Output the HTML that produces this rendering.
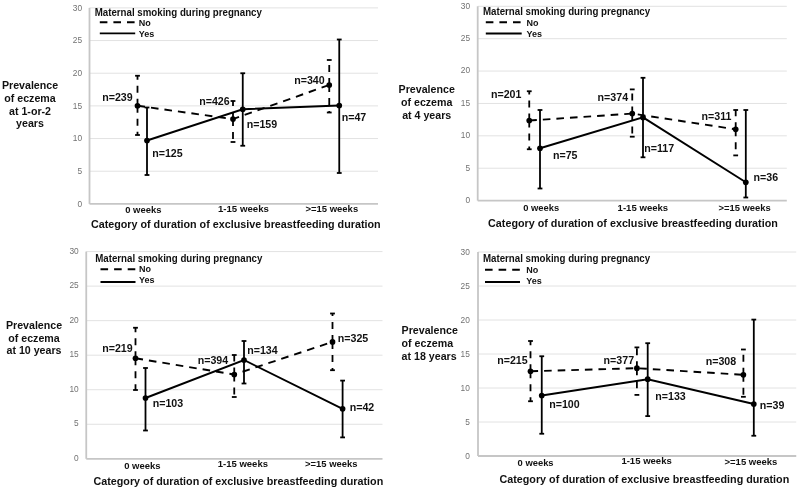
<!DOCTYPE html>
<html><head><meta charset="utf-8"><style>html,body{margin:0;padding:0;background:#fff;}svg{display:block;will-change:transform;}</style></head><body>
<svg width="800" height="489" viewBox="0 0 800 489" font-family='"Liberation Sans", sans-serif'>
<rect width="800" height="489" fill="#fff"/>
<line x1="89.5" y1="171.23" x2="378" y2="171.23" stroke="#e2e2e2" stroke-width="1"/>
<line x1="89.5" y1="138.57" x2="378" y2="138.57" stroke="#e2e2e2" stroke-width="1"/>
<line x1="89.5" y1="105.90" x2="378" y2="105.90" stroke="#e2e2e2" stroke-width="1"/>
<line x1="89.5" y1="73.23" x2="378" y2="73.23" stroke="#e2e2e2" stroke-width="1"/>
<line x1="89.5" y1="40.57" x2="378" y2="40.57" stroke="#e2e2e2" stroke-width="1"/>
<line x1="89.5" y1="7.90" x2="378" y2="7.90" stroke="#e2e2e2" stroke-width="1"/>
<line x1="89.5" y1="7.90" x2="89.5" y2="203.90" stroke="#c6c6c6" stroke-width="1.8"/>
<line x1="89.5" y1="203.90" x2="378" y2="203.90" stroke="#c6c6c6" stroke-width="1.8"/>
<text x="77.45" y="206.80" font-size="8.8" fill="#727272" textLength="4.65" lengthAdjust="spacingAndGlyphs">0</text>
<text x="77.45" y="174.13" font-size="8.8" fill="#727272" textLength="4.65" lengthAdjust="spacingAndGlyphs">5</text>
<text x="72.80" y="141.47" font-size="8.8" fill="#727272" textLength="9.30" lengthAdjust="spacingAndGlyphs">10</text>
<text x="72.80" y="108.80" font-size="8.8" fill="#727272" textLength="9.30" lengthAdjust="spacingAndGlyphs">15</text>
<text x="72.80" y="76.13" font-size="8.8" fill="#727272" textLength="9.30" lengthAdjust="spacingAndGlyphs">20</text>
<text x="72.80" y="43.47" font-size="8.8" fill="#727272" textLength="9.30" lengthAdjust="spacingAndGlyphs">25</text>
<text x="72.80" y="10.80" font-size="8.8" fill="#727272" textLength="9.30" lengthAdjust="spacingAndGlyphs">30</text>
<polyline points="137.5,105.75 233,119.1 329.25,85" fill="none" stroke="#000" stroke-width="1.9" stroke-dasharray="7.6,6.0"/>
<line x1="137.5" y1="105.75" x2="137.5" y2="75.75" stroke="#000" stroke-width="1.8" stroke-dasharray="7,6"/>
<line x1="137.5" y1="105.75" x2="137.5" y2="135" stroke="#000" stroke-width="1.8" stroke-dasharray="7,6"/>
<line x1="135.1" y1="75.75" x2="139.9" y2="75.75" stroke="#000" stroke-width="1.8"/>
<line x1="135.1" y1="135" x2="139.9" y2="135" stroke="#000" stroke-width="1.8"/>
<circle cx="137.5" cy="105.75" r="2.85" fill="#000"/>
<line x1="233" y1="119.1" x2="233" y2="101" stroke="#000" stroke-width="1.8" stroke-dasharray="7,6"/>
<line x1="233" y1="119.1" x2="233" y2="142" stroke="#000" stroke-width="1.8" stroke-dasharray="7,6"/>
<line x1="230.6" y1="101" x2="235.4" y2="101" stroke="#000" stroke-width="1.8"/>
<line x1="230.6" y1="142" x2="235.4" y2="142" stroke="#000" stroke-width="1.8"/>
<circle cx="233" cy="119.1" r="2.85" fill="#000"/>
<line x1="329.25" y1="85" x2="329.25" y2="60" stroke="#000" stroke-width="1.8" stroke-dasharray="7,6"/>
<line x1="329.25" y1="85" x2="329.25" y2="112.5" stroke="#000" stroke-width="1.8" stroke-dasharray="7,6"/>
<line x1="326.85" y1="60" x2="331.65" y2="60" stroke="#000" stroke-width="1.8"/>
<line x1="326.85" y1="112.5" x2="331.65" y2="112.5" stroke="#000" stroke-width="1.8"/>
<circle cx="329.25" cy="85" r="2.85" fill="#000"/>
<polyline points="147,140.5 242.75,109.25 339.25,105.5" fill="none" stroke="#000" stroke-width="1.9"/>
<line x1="147" y1="107.5" x2="147" y2="175" stroke="#000" stroke-width="1.8"/>
<line x1="144.6" y1="107.5" x2="149.4" y2="107.5" stroke="#000" stroke-width="1.8"/>
<line x1="144.6" y1="175" x2="149.4" y2="175" stroke="#000" stroke-width="1.8"/>
<circle cx="147" cy="140.5" r="2.85" fill="#000"/>
<line x1="242.75" y1="73.25" x2="242.75" y2="145.75" stroke="#000" stroke-width="1.8"/>
<line x1="240.35" y1="73.25" x2="245.15" y2="73.25" stroke="#000" stroke-width="1.8"/>
<line x1="240.35" y1="145.75" x2="245.15" y2="145.75" stroke="#000" stroke-width="1.8"/>
<circle cx="242.75" cy="109.25" r="2.85" fill="#000"/>
<line x1="339.25" y1="39.5" x2="339.25" y2="173" stroke="#000" stroke-width="1.8"/>
<line x1="336.85" y1="39.5" x2="341.65" y2="39.5" stroke="#000" stroke-width="1.8"/>
<line x1="336.85" y1="173" x2="341.65" y2="173" stroke="#000" stroke-width="1.8"/>
<circle cx="339.25" cy="105.5" r="2.85" fill="#000"/>
<text x="102.20" y="100.80" font-size="10.65" font-weight="bold" fill="#111">n=239</text>
<text x="199.20" y="104.55" font-size="10.65" font-weight="bold" fill="#111">n=426</text>
<text x="294.20" y="83.80" font-size="10.65" font-weight="bold" fill="#111">n=340</text>
<text x="152.20" y="157.05" font-size="10.65" font-weight="bold" fill="#111">n=125</text>
<text x="246.70" y="127.55" font-size="10.65" font-weight="bold" fill="#111">n=159</text>
<text x="341.70" y="120.55" font-size="10.65" font-weight="bold" fill="#111">n=47</text>
<text x="30" y="89.30" font-size="10.65" font-weight="bold" fill="#111" text-anchor="middle">Prevalence</text>
<text x="30" y="102.00" font-size="10.65" font-weight="bold" fill="#111" text-anchor="middle">of eczema</text>
<text x="30" y="114.70" font-size="10.65" font-weight="bold" fill="#111" text-anchor="middle">at 1-or-2</text>
<text x="30" y="127.40" font-size="10.65" font-weight="bold" fill="#111" text-anchor="middle">years</text>
<text x="94.7" y="15.6" font-size="10.2" font-weight="bold" fill="#111" textLength="167.2" lengthAdjust="spacingAndGlyphs">Maternal smoking during pregnancy</text>
<line x1="99.8" y1="22.3" x2="135.2" y2="22.3" stroke="#000" stroke-width="1.9" stroke-dasharray="7.6,6.0"/>
<line x1="99.8" y1="33.4" x2="135.2" y2="33.4" stroke="#000" stroke-width="1.9"/>
<text x="138.7" y="25.60" font-size="9" font-weight="bold" fill="#111">No</text>
<text x="138.7" y="36.70" font-size="9" font-weight="bold" fill="#111">Yes</text>
<text x="125.20" y="213.00" font-size="9.8" font-weight="bold" fill="#111" textLength="36.2" lengthAdjust="spacingAndGlyphs">0 weeks</text>
<text x="217.90" y="211.70" font-size="9.8" font-weight="bold" fill="#111" textLength="51.0" lengthAdjust="spacingAndGlyphs">1-15 weeks</text>
<text x="305.40" y="211.50" font-size="9.8" font-weight="bold" fill="#111" textLength="52.8" lengthAdjust="spacingAndGlyphs">&gt;=15 weeks</text>
<text x="90.9" y="227.90" font-size="10.75" font-weight="bold" fill="#111">Category of duration of exclusive breastfeeding duration</text>
<line x1="477.7" y1="168.22" x2="786.8" y2="168.22" stroke="#e2e2e2" stroke-width="1"/>
<line x1="477.7" y1="135.83" x2="786.8" y2="135.83" stroke="#e2e2e2" stroke-width="1"/>
<line x1="477.7" y1="103.45" x2="786.8" y2="103.45" stroke="#e2e2e2" stroke-width="1"/>
<line x1="477.7" y1="71.07" x2="786.8" y2="71.07" stroke="#e2e2e2" stroke-width="1"/>
<line x1="477.7" y1="38.68" x2="786.8" y2="38.68" stroke="#e2e2e2" stroke-width="1"/>
<line x1="477.7" y1="6.30" x2="786.8" y2="6.30" stroke="#e2e2e2" stroke-width="1"/>
<line x1="477.7" y1="6.30" x2="477.7" y2="200.60" stroke="#c6c6c6" stroke-width="1.8"/>
<line x1="477.7" y1="200.60" x2="786.8" y2="200.60" stroke="#c6c6c6" stroke-width="1.8"/>
<text x="465.45" y="203.00" font-size="8.8" fill="#727272" textLength="4.65" lengthAdjust="spacingAndGlyphs">0</text>
<text x="465.45" y="170.62" font-size="8.8" fill="#727272" textLength="4.65" lengthAdjust="spacingAndGlyphs">5</text>
<text x="460.80" y="138.23" font-size="8.8" fill="#727272" textLength="9.30" lengthAdjust="spacingAndGlyphs">10</text>
<text x="460.80" y="105.85" font-size="8.8" fill="#727272" textLength="9.30" lengthAdjust="spacingAndGlyphs">15</text>
<text x="460.80" y="73.47" font-size="8.8" fill="#727272" textLength="9.30" lengthAdjust="spacingAndGlyphs">20</text>
<text x="460.80" y="41.08" font-size="8.8" fill="#727272" textLength="9.30" lengthAdjust="spacingAndGlyphs">25</text>
<text x="460.80" y="8.70" font-size="8.8" fill="#727272" textLength="9.30" lengthAdjust="spacingAndGlyphs">30</text>
<polyline points="529.25,120.5 632.25,113.6 735.7,129.3" fill="none" stroke="#000" stroke-width="1.9" stroke-dasharray="7.6,6.0"/>
<line x1="529.25" y1="120.5" x2="529.25" y2="91.25" stroke="#000" stroke-width="1.8" stroke-dasharray="7,6"/>
<line x1="529.25" y1="120.5" x2="529.25" y2="149.25" stroke="#000" stroke-width="1.8" stroke-dasharray="7,6"/>
<line x1="526.85" y1="91.25" x2="531.65" y2="91.25" stroke="#000" stroke-width="1.8"/>
<line x1="526.85" y1="149.25" x2="531.65" y2="149.25" stroke="#000" stroke-width="1.8"/>
<circle cx="529.25" cy="120.5" r="2.85" fill="#000"/>
<line x1="632.25" y1="113.6" x2="632.25" y2="89.4" stroke="#000" stroke-width="1.8" stroke-dasharray="7,6"/>
<line x1="632.25" y1="113.6" x2="632.25" y2="136.7" stroke="#000" stroke-width="1.8" stroke-dasharray="7,6"/>
<line x1="629.85" y1="89.4" x2="634.65" y2="89.4" stroke="#000" stroke-width="1.8"/>
<line x1="629.85" y1="136.7" x2="634.65" y2="136.7" stroke="#000" stroke-width="1.8"/>
<circle cx="632.25" cy="113.6" r="2.85" fill="#000"/>
<line x1="735.7" y1="129.3" x2="735.7" y2="110" stroke="#000" stroke-width="1.8" stroke-dasharray="7,6"/>
<line x1="735.7" y1="129.3" x2="735.7" y2="155.4" stroke="#000" stroke-width="1.8" stroke-dasharray="7,6"/>
<line x1="733.3000000000001" y1="110" x2="738.1" y2="110" stroke="#000" stroke-width="1.8"/>
<line x1="733.3000000000001" y1="155.4" x2="738.1" y2="155.4" stroke="#000" stroke-width="1.8"/>
<circle cx="735.7" cy="129.3" r="2.85" fill="#000"/>
<polyline points="540,148.25 643,117.4 745.8,182.3" fill="none" stroke="#000" stroke-width="1.9"/>
<line x1="540" y1="110" x2="540" y2="188.5" stroke="#000" stroke-width="1.8"/>
<line x1="537.6" y1="110" x2="542.4" y2="110" stroke="#000" stroke-width="1.8"/>
<line x1="537.6" y1="188.5" x2="542.4" y2="188.5" stroke="#000" stroke-width="1.8"/>
<circle cx="540" cy="148.25" r="2.85" fill="#000"/>
<line x1="643" y1="77.8" x2="643" y2="157.3" stroke="#000" stroke-width="1.8"/>
<line x1="640.6" y1="77.8" x2="645.4" y2="77.8" stroke="#000" stroke-width="1.8"/>
<line x1="640.6" y1="157.3" x2="645.4" y2="157.3" stroke="#000" stroke-width="1.8"/>
<circle cx="643" cy="117.4" r="2.85" fill="#000"/>
<line x1="745.8" y1="110" x2="745.8" y2="197.5" stroke="#000" stroke-width="1.8"/>
<line x1="743.4" y1="110" x2="748.1999999999999" y2="110" stroke="#000" stroke-width="1.8"/>
<line x1="743.4" y1="197.5" x2="748.1999999999999" y2="197.5" stroke="#000" stroke-width="1.8"/>
<circle cx="745.8" cy="182.3" r="2.85" fill="#000"/>
<text x="490.95" y="98.05" font-size="10.65" font-weight="bold" fill="#111">n=201</text>
<text x="597.60" y="101.40" font-size="10.65" font-weight="bold" fill="#111">n=374</text>
<text x="701.50" y="119.80" font-size="10.65" font-weight="bold" fill="#111">n=311</text>
<text x="552.95" y="158.80" font-size="10.65" font-weight="bold" fill="#111">n=75</text>
<text x="644.30" y="151.80" font-size="10.65" font-weight="bold" fill="#111">n=117</text>
<text x="753.50" y="181.20" font-size="10.65" font-weight="bold" fill="#111">n=36</text>
<text x="426.7" y="93.20" font-size="10.65" font-weight="bold" fill="#111" text-anchor="middle">Prevalence</text>
<text x="426.7" y="105.90" font-size="10.65" font-weight="bold" fill="#111" text-anchor="middle">of eczema</text>
<text x="426.7" y="118.60" font-size="10.65" font-weight="bold" fill="#111" text-anchor="middle">at 4 years</text>
<text x="482.95" y="15.1" font-size="10.2" font-weight="bold" fill="#111" textLength="167.2" lengthAdjust="spacingAndGlyphs">Maternal smoking during pregnancy</text>
<line x1="485.8" y1="22.2" x2="521.7" y2="22.2" stroke="#000" stroke-width="1.9" stroke-dasharray="7.6,6.0"/>
<line x1="485.8" y1="33.5" x2="521.7" y2="33.5" stroke="#000" stroke-width="1.9"/>
<text x="526.4" y="25.50" font-size="9" font-weight="bold" fill="#111">No</text>
<text x="526.4" y="36.80" font-size="9" font-weight="bold" fill="#111">Yes</text>
<text x="523.20" y="211.00" font-size="9.8" font-weight="bold" fill="#111" textLength="36.0" lengthAdjust="spacingAndGlyphs">0 weeks</text>
<text x="617.60" y="211.00" font-size="9.8" font-weight="bold" fill="#111" textLength="50.6" lengthAdjust="spacingAndGlyphs">1-15 weeks</text>
<text x="718.50" y="211.00" font-size="9.8" font-weight="bold" fill="#111" textLength="52.3" lengthAdjust="spacingAndGlyphs">&gt;=15 weeks</text>
<text x="488.1" y="226.70" font-size="10.75" font-weight="bold" fill="#111">Category of duration of exclusive breastfeeding duration</text>
<line x1="86.25" y1="424.27" x2="382.5" y2="424.27" stroke="#e2e2e2" stroke-width="1"/>
<line x1="86.25" y1="389.73" x2="382.5" y2="389.73" stroke="#e2e2e2" stroke-width="1"/>
<line x1="86.25" y1="355.20" x2="382.5" y2="355.20" stroke="#e2e2e2" stroke-width="1"/>
<line x1="86.25" y1="320.67" x2="382.5" y2="320.67" stroke="#e2e2e2" stroke-width="1"/>
<line x1="86.25" y1="286.13" x2="382.5" y2="286.13" stroke="#e2e2e2" stroke-width="1"/>
<line x1="86.25" y1="251.60" x2="382.5" y2="251.60" stroke="#e2e2e2" stroke-width="1"/>
<line x1="86.25" y1="251.60" x2="86.25" y2="458.80" stroke="#c6c6c6" stroke-width="1.8"/>
<line x1="86.25" y1="458.80" x2="382.5" y2="458.80" stroke="#c6c6c6" stroke-width="1.8"/>
<text x="74.05" y="460.90" font-size="8.8" fill="#727272" textLength="4.65" lengthAdjust="spacingAndGlyphs">0</text>
<text x="74.05" y="426.37" font-size="8.8" fill="#727272" textLength="4.65" lengthAdjust="spacingAndGlyphs">5</text>
<text x="69.40" y="391.83" font-size="8.8" fill="#727272" textLength="9.30" lengthAdjust="spacingAndGlyphs">10</text>
<text x="69.40" y="357.30" font-size="8.8" fill="#727272" textLength="9.30" lengthAdjust="spacingAndGlyphs">15</text>
<text x="69.40" y="322.77" font-size="8.8" fill="#727272" textLength="9.30" lengthAdjust="spacingAndGlyphs">20</text>
<text x="69.40" y="288.23" font-size="8.8" fill="#727272" textLength="9.30" lengthAdjust="spacingAndGlyphs">25</text>
<text x="69.40" y="253.70" font-size="8.8" fill="#727272" textLength="9.30" lengthAdjust="spacingAndGlyphs">30</text>
<polyline points="135.5,358.25 234.25,374.5 332.5,341.9" fill="none" stroke="#000" stroke-width="1.9" stroke-dasharray="7.6,6.0"/>
<line x1="135.5" y1="358.25" x2="135.5" y2="327.75" stroke="#000" stroke-width="1.8" stroke-dasharray="7,6"/>
<line x1="135.5" y1="358.25" x2="135.5" y2="390" stroke="#000" stroke-width="1.8" stroke-dasharray="7,6"/>
<line x1="133.1" y1="327.75" x2="137.9" y2="327.75" stroke="#000" stroke-width="1.8"/>
<line x1="133.1" y1="390" x2="137.9" y2="390" stroke="#000" stroke-width="1.8"/>
<circle cx="135.5" cy="358.25" r="2.85" fill="#000"/>
<line x1="234.25" y1="374.5" x2="234.25" y2="355" stroke="#000" stroke-width="1.8" stroke-dasharray="7,6"/>
<line x1="234.25" y1="374.5" x2="234.25" y2="397" stroke="#000" stroke-width="1.8" stroke-dasharray="7,6"/>
<line x1="231.85" y1="355" x2="236.65" y2="355" stroke="#000" stroke-width="1.8"/>
<line x1="231.85" y1="397" x2="236.65" y2="397" stroke="#000" stroke-width="1.8"/>
<circle cx="234.25" cy="374.5" r="2.85" fill="#000"/>
<line x1="332.5" y1="341.9" x2="332.5" y2="313.5" stroke="#000" stroke-width="1.8" stroke-dasharray="7,6"/>
<line x1="332.5" y1="341.9" x2="332.5" y2="370.2" stroke="#000" stroke-width="1.8" stroke-dasharray="7,6"/>
<line x1="330.1" y1="313.5" x2="334.9" y2="313.5" stroke="#000" stroke-width="1.8"/>
<line x1="330.1" y1="370.2" x2="334.9" y2="370.2" stroke="#000" stroke-width="1.8"/>
<circle cx="332.5" cy="341.9" r="2.85" fill="#000"/>
<polyline points="145.5,398 244,360 342.6,408.8" fill="none" stroke="#000" stroke-width="1.9"/>
<line x1="145.5" y1="368" x2="145.5" y2="430.5" stroke="#000" stroke-width="1.8"/>
<line x1="143.1" y1="368" x2="147.9" y2="368" stroke="#000" stroke-width="1.8"/>
<line x1="143.1" y1="430.5" x2="147.9" y2="430.5" stroke="#000" stroke-width="1.8"/>
<circle cx="145.5" cy="398" r="2.85" fill="#000"/>
<line x1="244" y1="341" x2="244" y2="383.5" stroke="#000" stroke-width="1.8"/>
<line x1="241.6" y1="341" x2="246.4" y2="341" stroke="#000" stroke-width="1.8"/>
<line x1="241.6" y1="383.5" x2="246.4" y2="383.5" stroke="#000" stroke-width="1.8"/>
<circle cx="244" cy="360" r="2.85" fill="#000"/>
<line x1="342.6" y1="380.6" x2="342.6" y2="437.4" stroke="#000" stroke-width="1.8"/>
<line x1="340.20000000000005" y1="380.6" x2="345.0" y2="380.6" stroke="#000" stroke-width="1.8"/>
<line x1="340.20000000000005" y1="437.4" x2="345.0" y2="437.4" stroke="#000" stroke-width="1.8"/>
<circle cx="342.6" cy="408.8" r="2.85" fill="#000"/>
<text x="102.20" y="352.05" font-size="10.65" font-weight="bold" fill="#111">n=219</text>
<text x="197.70" y="364.05" font-size="10.65" font-weight="bold" fill="#111">n=394</text>
<text x="337.80" y="342.05" font-size="10.65" font-weight="bold" fill="#111">n=325</text>
<text x="152.70" y="407.05" font-size="10.65" font-weight="bold" fill="#111">n=103</text>
<text x="247.20" y="354.40" font-size="10.65" font-weight="bold" fill="#111">n=134</text>
<text x="349.70" y="411.30" font-size="10.65" font-weight="bold" fill="#111">n=42</text>
<text x="34" y="328.80" font-size="10.65" font-weight="bold" fill="#111" text-anchor="middle">Prevalence</text>
<text x="34" y="341.50" font-size="10.65" font-weight="bold" fill="#111" text-anchor="middle">of eczema</text>
<text x="34" y="354.20" font-size="10.65" font-weight="bold" fill="#111" text-anchor="middle">at 10 years</text>
<text x="95.2" y="261.6" font-size="10.2" font-weight="bold" fill="#111" textLength="167.2" lengthAdjust="spacingAndGlyphs">Maternal smoking during pregnancy</text>
<line x1="100.5" y1="269.25" x2="135.5" y2="269.25" stroke="#000" stroke-width="1.9" stroke-dasharray="7.6,6.0"/>
<line x1="100.5" y1="282" x2="135.5" y2="282" stroke="#000" stroke-width="1.9"/>
<text x="139" y="271.95" font-size="9" font-weight="bold" fill="#111">No</text>
<text x="139" y="283.40" font-size="9" font-weight="bold" fill="#111">Yes</text>
<text x="124.20" y="468.70" font-size="9.8" font-weight="bold" fill="#111" textLength="36.4" lengthAdjust="spacingAndGlyphs">0 weeks</text>
<text x="217.70" y="467.10" font-size="9.8" font-weight="bold" fill="#111" textLength="50.3" lengthAdjust="spacingAndGlyphs">1-15 weeks</text>
<text x="305.10" y="467.10" font-size="9.8" font-weight="bold" fill="#111" textLength="52.4" lengthAdjust="spacingAndGlyphs">&gt;=15 weeks</text>
<text x="93.5" y="485.30" font-size="10.75" font-weight="bold" fill="#111">Category of duration of exclusive breastfeeding duration</text>
<line x1="478" y1="422.00" x2="796.25" y2="422.00" stroke="#e2e2e2" stroke-width="1"/>
<line x1="478" y1="388.00" x2="796.25" y2="388.00" stroke="#e2e2e2" stroke-width="1"/>
<line x1="478" y1="354.00" x2="796.25" y2="354.00" stroke="#e2e2e2" stroke-width="1"/>
<line x1="478" y1="320.00" x2="796.25" y2="320.00" stroke="#e2e2e2" stroke-width="1"/>
<line x1="478" y1="286.00" x2="796.25" y2="286.00" stroke="#e2e2e2" stroke-width="1"/>
<line x1="478" y1="252.00" x2="796.25" y2="252.00" stroke="#e2e2e2" stroke-width="1"/>
<line x1="478" y1="252.00" x2="478" y2="456.00" stroke="#c6c6c6" stroke-width="1.8"/>
<line x1="478" y1="456.00" x2="796.25" y2="456.00" stroke="#c6c6c6" stroke-width="1.8"/>
<text x="465.25" y="458.60" font-size="8.8" fill="#727272" textLength="4.65" lengthAdjust="spacingAndGlyphs">0</text>
<text x="465.25" y="424.60" font-size="8.8" fill="#727272" textLength="4.65" lengthAdjust="spacingAndGlyphs">5</text>
<text x="460.60" y="390.60" font-size="8.8" fill="#727272" textLength="9.30" lengthAdjust="spacingAndGlyphs">10</text>
<text x="460.60" y="356.60" font-size="8.8" fill="#727272" textLength="9.30" lengthAdjust="spacingAndGlyphs">15</text>
<text x="460.60" y="322.60" font-size="8.8" fill="#727272" textLength="9.30" lengthAdjust="spacingAndGlyphs">20</text>
<text x="460.60" y="288.60" font-size="8.8" fill="#727272" textLength="9.30" lengthAdjust="spacingAndGlyphs">25</text>
<text x="460.60" y="254.60" font-size="8.8" fill="#727272" textLength="9.30" lengthAdjust="spacingAndGlyphs">30</text>
<polyline points="530.5,371.25 636.9,368.2 743.4,374.8" fill="none" stroke="#000" stroke-width="1.9" stroke-dasharray="7.6,6.0"/>
<line x1="530.5" y1="371.25" x2="530.5" y2="341" stroke="#000" stroke-width="1.8" stroke-dasharray="7,6"/>
<line x1="530.5" y1="371.25" x2="530.5" y2="401.25" stroke="#000" stroke-width="1.8" stroke-dasharray="7,6"/>
<line x1="528.1" y1="341" x2="532.9" y2="341" stroke="#000" stroke-width="1.8"/>
<line x1="528.1" y1="401.25" x2="532.9" y2="401.25" stroke="#000" stroke-width="1.8"/>
<circle cx="530.5" cy="371.25" r="2.85" fill="#000"/>
<line x1="636.9" y1="368.2" x2="636.9" y2="347.4" stroke="#000" stroke-width="1.8" stroke-dasharray="7,6"/>
<line x1="636.9" y1="368.2" x2="636.9" y2="394.9" stroke="#000" stroke-width="1.8" stroke-dasharray="7,6"/>
<line x1="634.5" y1="347.4" x2="639.3" y2="347.4" stroke="#000" stroke-width="1.8"/>
<line x1="634.5" y1="394.9" x2="639.3" y2="394.9" stroke="#000" stroke-width="1.8"/>
<circle cx="636.9" cy="368.2" r="2.85" fill="#000"/>
<line x1="743.4" y1="374.8" x2="743.4" y2="349.5" stroke="#000" stroke-width="1.8" stroke-dasharray="7,6"/>
<line x1="743.4" y1="374.8" x2="743.4" y2="396.8" stroke="#000" stroke-width="1.8" stroke-dasharray="7,6"/>
<line x1="741.0" y1="349.5" x2="745.8" y2="349.5" stroke="#000" stroke-width="1.8"/>
<line x1="741.0" y1="396.8" x2="745.8" y2="396.8" stroke="#000" stroke-width="1.8"/>
<circle cx="743.4" cy="374.8" r="2.85" fill="#000"/>
<polyline points="541.75,395.5 647.7,379.2 753.8,404" fill="none" stroke="#000" stroke-width="1.9"/>
<line x1="541.75" y1="356.25" x2="541.75" y2="433.75" stroke="#000" stroke-width="1.8"/>
<line x1="539.35" y1="356.25" x2="544.15" y2="356.25" stroke="#000" stroke-width="1.8"/>
<line x1="539.35" y1="433.75" x2="544.15" y2="433.75" stroke="#000" stroke-width="1.8"/>
<circle cx="541.75" cy="395.5" r="2.85" fill="#000"/>
<line x1="647.7" y1="343.2" x2="647.7" y2="416.1" stroke="#000" stroke-width="1.8"/>
<line x1="645.3000000000001" y1="343.2" x2="650.1" y2="343.2" stroke="#000" stroke-width="1.8"/>
<line x1="645.3000000000001" y1="416.1" x2="650.1" y2="416.1" stroke="#000" stroke-width="1.8"/>
<circle cx="647.7" cy="379.2" r="2.85" fill="#000"/>
<line x1="753.8" y1="319.6" x2="753.8" y2="435.75" stroke="#000" stroke-width="1.8"/>
<line x1="751.4" y1="319.6" x2="756.1999999999999" y2="319.6" stroke="#000" stroke-width="1.8"/>
<line x1="751.4" y1="435.75" x2="756.1999999999999" y2="435.75" stroke="#000" stroke-width="1.8"/>
<circle cx="753.8" cy="404" r="2.85" fill="#000"/>
<text x="497.20" y="364.30" font-size="10.65" font-weight="bold" fill="#111">n=215</text>
<text x="603.60" y="364.30" font-size="10.65" font-weight="bold" fill="#111">n=377</text>
<text x="705.70" y="364.80" font-size="10.65" font-weight="bold" fill="#111">n=308</text>
<text x="549.20" y="407.55" font-size="10.65" font-weight="bold" fill="#111">n=100</text>
<text x="655.30" y="400.10" font-size="10.65" font-weight="bold" fill="#111">n=133</text>
<text x="759.80" y="409.10" font-size="10.65" font-weight="bold" fill="#111">n=39</text>
<text x="401.6" y="333.90" font-size="10.65" font-weight="bold" fill="#111" text-anchor="start">Prevalence</text>
<text x="401.6" y="346.70" font-size="10.65" font-weight="bold" fill="#111" text-anchor="start">of eczema</text>
<text x="401.6" y="359.50" font-size="10.65" font-weight="bold" fill="#111" text-anchor="start">at 18 years</text>
<text x="482.95" y="262.3" font-size="10.2" font-weight="bold" fill="#111" textLength="167.2" lengthAdjust="spacingAndGlyphs">Maternal smoking during pregnancy</text>
<line x1="485" y1="269.75" x2="520" y2="269.75" stroke="#000" stroke-width="1.9" stroke-dasharray="7.6,6.0"/>
<line x1="485" y1="282" x2="520" y2="282" stroke="#000" stroke-width="1.9"/>
<text x="526.25" y="273.05" font-size="9" font-weight="bold" fill="#111">No</text>
<text x="526.25" y="283.90" font-size="9" font-weight="bold" fill="#111">Yes</text>
<text x="517.60" y="465.60" font-size="9.8" font-weight="bold" fill="#111" textLength="36.0" lengthAdjust="spacingAndGlyphs">0 weeks</text>
<text x="621.40" y="464.20" font-size="9.8" font-weight="bold" fill="#111" textLength="50.4" lengthAdjust="spacingAndGlyphs">1-15 weeks</text>
<text x="724.50" y="465.20" font-size="9.8" font-weight="bold" fill="#111" textLength="52.9" lengthAdjust="spacingAndGlyphs">&gt;=15 weeks</text>
<text x="499.5" y="483.30" font-size="10.75" font-weight="bold" fill="#111">Category of duration of exclusive breastfeeding duration</text>
</svg>
</body></html>
